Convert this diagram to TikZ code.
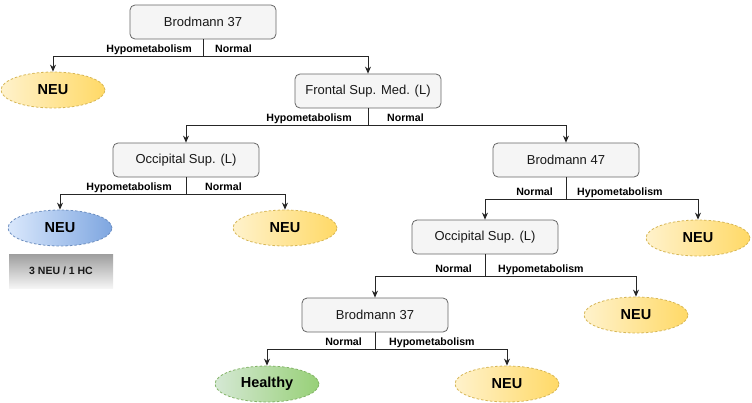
\documentclass[tikz,border=0pt]{standalone}
\usepackage{fontspec}
\setmainfont{Liberation Sans}
\usepackage{xcolor}
\usetikzlibrary{arrows.meta, shapes.geometric, positioning, calc}

\definecolor{boxfill}{HTML}{F5F5F5}
\definecolor{boxline}{HTML}{666666}
\definecolor{yellowA}{HTML}{FFF2CC}
\definecolor{yellowB}{HTML}{FFD966}
\definecolor{yellowline}{HTML}{D6B656}
\definecolor{blueA}{HTML}{DAE8FC}
\definecolor{blueB}{HTML}{7EA6E0}
\definecolor{blueline}{HTML}{6C8EBF}
\definecolor{greenA}{HTML}{D5E8D4}
\definecolor{greenB}{HTML}{97D077}
\definecolor{greenline}{HTML}{82B366}

\tikzset{
    region/.style={draw=boxline, fill=boxfill, rounded corners=5pt, minimum width=146pt,
        minimum height=34pt, text=black!90, line width=0.8pt, font=\fontsize{13}{15}\selectfont},
    leaf/.style={ellipse, draw=yellowline, line width=0.8pt, dash pattern=on 2.5pt off 2pt,
        left color=yellowA, right color=yellowB, minimum width=104pt, minimum height=36pt,
        inner sep=0pt, font=\bfseries\fontsize{14.5}{16}\selectfont},
    bleaf/.style={leaf, draw=blueline, left color=blueA, right color=blueB},
    gleaf/.style={leaf, draw=greenline, left color=greenA, right color=greenB},
    edge/.style={draw=black!85, line width=0.8pt, -{Stealth[length=7pt, width=6pt]}},
    branch/.style={draw=black!85, line width=0.8pt},
    lbl/.style={font=\bfseries\fontsize{10.6}{12}\selectfont, inner sep=0pt},
}

\begin{document}
\begin{tikzpicture}[x=1pt, y=-1pt]
    \useasboundingbox (0,0) rectangle (752,402);

    % boxes
    \node[region] (b37) at (203,22) {Brodmann 37};
    \node[region] (fsm) at (368,91) {Frontal Sup. Med. (L)};
    \node[region] (occ) at (186,160) {Occipital Sup. (L)};
    \node[region] (b47) at (566,160) {Brodmann 47};
    \node[region] (occb) at (485,237) {Occipital Sup. (L)};
    \node[region] (b37b) at (375,315) {Brodmann 37};

    % leaves
    \node[leaf] (neua) at (53,90) {NEU};
    \node[bleaf] (neub) at (60,228) {NEU};
    \node[leaf] (neuc) at (285,228) {NEU};
    \node[leaf] (neud) at (698,238) {NEU};
    \node[leaf] (neue) at (636,315) {NEU};
    \node[gleaf] (healthy) at (267,384) {Healthy};
    \node[leaf] (neuf) at (507,384) {NEU};

    \node[top color=black!38, bottom color=black!4, minimum width=104pt, minimum height=34pt,
        font=\bfseries\fontsize{10.5}{12}\selectfont, text=black!90] (count) at (61,271) {3 NEU / 1 HC};

    % split points
    \coordinate (s1) at (203,56);
    \coordinate (s2) at (368,125);
    \coordinate (s3) at (186,194);
    \coordinate (s4) at (566,199);
    \coordinate (s5) at (485,276);
    \coordinate (s6) at (375,349);

    \draw[branch] (b37) -- (s1);
    \draw[edge] (s1) -| (neua);
    \draw[edge] (s1) -| (fsm);
    \node[lbl, anchor=base east] (l1a) at ($(s1)+(-11,-4)$) {Hypometabolism};
    \node[lbl, anchor=base west] (l1b) at ($(s1)+(12,-4)$) {Normal};

    \draw[branch] (fsm) -- (s2);
    \draw[edge] (s2) -| (occ);
    \draw[edge] (s2) -| (b47);
    \node[lbl, anchor=base east] (l2a) at ($(s2)+(-16,-4)$) {Hypometabolism};
    \node[lbl, anchor=base west] (l2b) at ($(s2)+(19,-4)$) {Normal};

    \draw[branch] (occ) -- (s3);
    \draw[edge] (s3) -| (neub);
    \draw[edge] (s3) -| (neuc);
    \node[lbl, anchor=base east] (l3a) at ($(s3)+(-14,-4)$) {Hypometabolism};
    \node[lbl, anchor=base west] (l3b) at ($(s3)+(19,-4)$) {Normal};

    \draw[branch] (b47) -- (s4);
    \draw[edge] (s4) -| (occb);
    \draw[edge] (s4) -| (neud);
    \node[lbl, anchor=base east] (l4a) at ($(s4)+(-13,-4)$) {Normal};
    \node[lbl, anchor=base west] (l4b) at ($(s4)+(11,-4)$) {Hypometabolism};

    \draw[branch] (occb) -- (s5);
    \draw[edge] (s5) -| (b37b);
    \draw[edge] (s5) -| (neue);
    \node[lbl, anchor=base east] (l5a) at ($(s5)+(-13,-4)$) {Normal};
    \node[lbl, anchor=base west] (l5b) at ($(s5)+(13,-4)$) {Hypometabolism};

    \draw[branch] (b37b) -- (s6);
    \draw[edge] (s6) -| (healthy);
    \draw[edge] (s6) -| (neuf);
    \node[lbl, anchor=base east] (l6a) at ($(s6)+(-13,-4)$) {Normal};
    \node[lbl, anchor=base west] (l6b) at ($(s6)+(14,-4)$) {Hypometabolism};
\end{tikzpicture}
\end{document}
